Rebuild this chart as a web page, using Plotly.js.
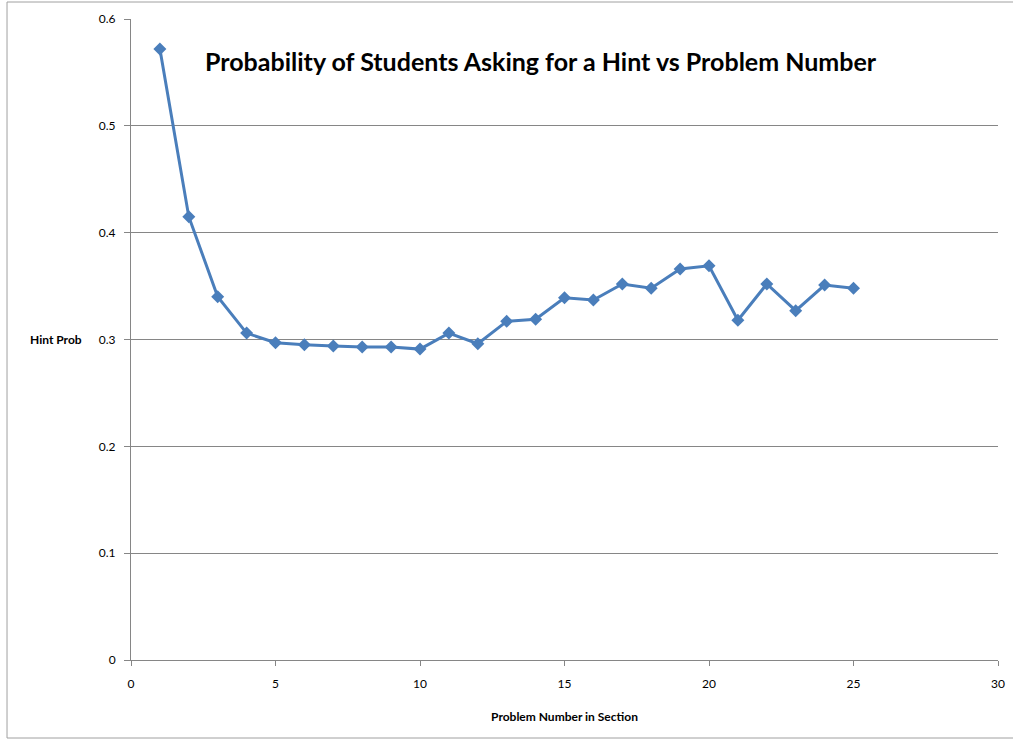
<!DOCTYPE html>
<html>
<head>
<meta charset="utf-8">
<script src="https://cdn.plot.ly/plotly-3.0.1.min.js"></script>
<style>html,body{margin:0;padding:0;background:#fff;}#chart{width:1013px;height:741px;}</style>
</head>
<body>
<div id="chart"></div>
<script>
const problemNumbers = [1,2,3,4,5,6,7,8,9,10,11,12,13,14,15,16,17,18,19,20,21,22,23,24,25];
const hintProb = [0.572,0.415,0.340,0.306,0.297,0.295,0.294,0.293,0.293,0.291,0.306,0.296,0.317,0.319,0.339,0.337,0.352,0.348,0.366,0.369,0.318,0.352,0.327,0.351,0.348];
const chartTitle = 'Probability of Students Asking for a Hint vs Problem Number';
const xTitle = 'Problem Number in Section';
const yTitle = 'Hint Prob';

const font = 'Lato, Carlito, "Liberation Sans", sans-serif';
const trace = {
  x: problemNumbers, y: hintProb, type: 'scatter', mode: 'lines+markers',
  line: {color: '#4a7ebb', width: 3},
  marker: {symbol: 'diamond', size: 10, color: '#4a7ebb'},
  hoverinfo: 'x+y'
};
const layout = {
  width: 1013, height: 741,
  margin: {l: 131, r: 15, t: 19, b: 81},
  paper_bgcolor: '#fff', plot_bgcolor: '#fff',
  showlegend: false,
  font: {family: font, color: '#000', size: 12},
  xaxis: {
    range: [0, 30], dtick: 5, tick0: 0, showgrid: false, zeroline: false,
    showline: true, linecolor: '#868686', linewidth: 1,
    ticks: 'outside', ticklen: 5, tickcolor: '#868686', ticklabelstandoff: 8,
    tickfont: {size: 12, family: font, color: '#000'},
    title: {text: '<b>' + xTitle + '</b>', font: {size: 12, family: font}, standoff: 22}
  },
  yaxis: {
    range: [0, 0.6], dtick: 0.1, tick0: 0, showgrid: true, gridcolor: '#868686', gridwidth: 1,
    zeroline: false, showline: true, linecolor: '#868686', linewidth: 1,
    ticks: 'outside', ticklen: 6, tickcolor: '#868686', ticklabelstandoff: 6,
    tickfont: {size: 12, family: font, color: '#000'}, tickformat: '.1~f'
  },
  annotations: [
    {text: '<b>' + chartTitle + '</b>', xref: 'paper', yref: 'paper', x: 0.473, y: 0.935,
     xanchor: 'center', yanchor: 'middle', showarrow: false, font: {size: 25, family: font, color: '#000'}},
    {text: '<b>' + yTitle + '</b>', xref: 'paper', yref: 'y', x: -0.054, y: 0.3,
     xanchor: 'right', yanchor: 'middle', showarrow: false, font: {size: 12, family: font, color: '#000'}}
  ],
  shapes: [
    {type: 'rect', xref: 'paper', yref: 'paper', x0: -0.1430, x1: 1.03, y0: -0.1217, y1: 1.0265,
     line: {color: '#a0a0a0', width: 1}, fillcolor: 'rgba(0,0,0,0)', layer: 'below'}
  ]
};
Plotly.newPlot('chart', [trace], layout, {displayModeBar: false, staticPlot: true});
</script>
</body>
</html>
